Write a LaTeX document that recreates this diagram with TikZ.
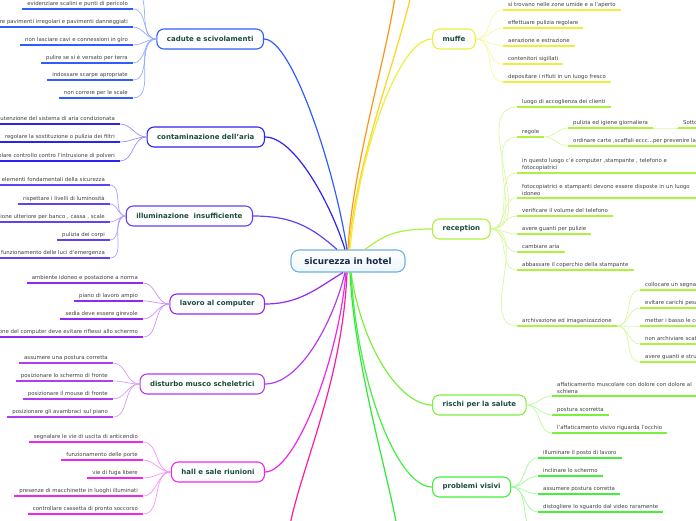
\documentclass[tikz,border=0pt]{standalone}
\usepackage{fontspec}
\setmainfont{DejaVu Sans}
\newcommand\leaffont{\fontsize{5.4}{7}\selectfont}
\newcommand\topicfont{\fontsize{7}{8}\selectfont\bfseries}
\newcommand\hubfont{\fontsize{8.8}{10}\selectfont\bfseries}
\definecolor{hubborder}{HTML}{6FB0E0}
\definecolor{hubfill}{HTML}{EEF6FC}
\definecolor{hubtext}{HTML}{1C2A4A}
\definecolor{topictext}{HTML}{1B4D3E}
\definecolor{leaftext}{HTML}{404040}
\definecolor{cadcol}{HTML}{2F5EFA}
\definecolor{concol}{HTML}{2E22EE}
\definecolor{illcol}{HTML}{6440F4}
\definecolor{lavcol}{HTML}{9328EE}
\definecolor{discol}{HTML}{B23CEE}
\definecolor{halcol}{HTML}{F026EE}
\definecolor{pinkcol}{HTML}{FF1C98}
\definecolor{greencol}{HTML}{2EE83A}
\definecolor{riscol}{HTML}{7CF03E}
\definecolor{procol}{HTML}{44F03E}
\definecolor{reccol}{HTML}{B0F03E}
\definecolor{mufcol}{HTML}{ECF03C}
\definecolor{yelcol}{HTML}{FFD21E}
\definecolor{oracol}{HTML}{FF9418}

\begin{document}
\begin{tikzpicture}[x=1pt, y=1pt,
    CenterShape/.style={rectangle, rounded corners=8pt, draw=hubborder,
        line width=1.1pt, top color=white, bottom color=hubfill,
        minimum height=22pt, minimum width=114pt, font=\hubfont, text=hubtext},
    TopicShape/.style={rectangle, rounded corners=7pt, draw=#1, line width=1.1pt,
        fill=white, minimum height=20pt, inner xsep=10pt, font=\topicfont,
        text=topictext},
    LeafLeft/.style 2 args={anchor=south east, font=\leaffont, text=leaftext,
        inner xsep=5pt, inner ysep=2.4pt, text height=3.9pt, text depth=1.3pt,
        append after command={(\tikzlastnode.south west) edge[draw=#1, line width=1.4pt]
            (\tikzlastnode.south east)
            (#2) edge[draw=#1!50!white, line width=0.7pt, out=180, in=0]
            (\tikzlastnode.south east)}},
    LeafRight/.style 2 args={anchor=south west, font=\leaffont, text=leaftext,
        inner xsep=5pt, inner ysep=2.4pt, text height=3.9pt, text depth=1.3pt,
        append after command={(\tikzlastnode.south west) edge[draw=#1, line width=1.4pt]
            (\tikzlastnode.south east)
            (#2) edge[draw=#1!50!white, line width=0.7pt, out=0, in=180]
            (\tikzlastnode.south west)}},
    LeafWide/.style 2 args={LeafRight={#1}{#2}, text height=, text depth=,
        text width=175pt, align=left},
    branch/.style={draw=#1, line width=1.2pt},
    twig/.style={draw=#1!50!white, line width=0.7pt}
]
\useasboundingbox (0,0) rectangle (696,-520);

\node (hotel) [CenterShape] at (348,-261) {sicurezza in hotel};

\node (cadute) [TopicShape=cadcol, anchor=east] at (264,-39) {cadute e scivolamenti};
\node (contaminazione) [TopicShape=concol, anchor=east] at (265,-137) {contaminazione dell'aria};
\node (illuminazione) [TopicShape=illcol, anchor=east] at (253,-216) {illuminazione\ \ insufficiente};
\node (lavoro) [TopicShape=lavcol, anchor=east] at (265,-304) {lavoro al computer};
\node (disturbo) [TopicShape=discol, anchor=east] at (265,-384) {disturbo musco scheletrici};
\node (hall) [TopicShape=halcol, anchor=east] at (265,-472) {hall e sale riunioni};
\node (muffe) [TopicShape=mufcol, anchor=west] at (432,-39) {muffe};
\node (reception) [TopicShape=reccol, anchor=west] at (432,-229) {reception};
\node (rischi) [TopicShape=riscol, anchor=west] at (432,-405) {rischi per la salute};
\node (problemi) [TopicShape=procol, anchor=west] at (432,-487) {problemi visivi};

\coordinate (orangeend) at (397,20);
\coordinate (yellowend) at (414,20);
\coordinate (pinkend) at (287,-545);
\coordinate (greenend) at (400,-545);
\coordinate (cad0) at (133,9);
\coordinate (pro0) at (538,-532);

\draw[branch=oracol] (hotel.north) .. controls +(5,90) and +(-5,-60) .. (orangeend);
\draw[branch=yelcol] ([xshift=1pt]hotel.north) .. controls +(6,90) and +(-10,-60) .. (yellowend);
\draw[branch=mufcol] ([xshift=2pt]hotel.north) .. controls +(8,90) and +(-35,0) .. (muffe.west);
\draw[branch=reccol] ([xshift=17pt]hotel.north) .. controls +(20,15) and +(-35,0) .. (reception.west);
\draw[branch=cadcol] ([xshift=-1pt]hotel.north) .. controls +(-12,80) and +(28,0) .. (cadute.east);
\draw[branch=concol] ([xshift=-3pt]hotel.north) .. controls +(-14,45) and +(30,0) .. (contaminazione.east);
\draw[branch=illcol] ([xshift=-11pt]hotel.north) .. controls +(-25,22) and +(40,0) .. (illuminazione.east);
\draw[branch=lavcol] ([xshift=-5pt]hotel.south) .. controls +(-25,-15) and +(35,0) .. (lavoro.east);
\draw[branch=discol] ([xshift=-3pt]hotel.south) .. controls +(-12,-50) and +(35,0) .. (disturbo.east);
\draw[branch=halcol] ([xshift=-2pt]hotel.south) .. controls +(-8,-90) and +(30,0) .. (hall.east);
\draw[branch=pinkcol] ([xshift=-1pt]hotel.south) .. controls +(-5,-120) and +(5,60) .. (pinkend);
\draw[branch=greencol] ([xshift=2pt]hotel.south) .. controls +(5,-100) and +(-8,60) .. (greenend);
\draw[branch=riscol] ([xshift=3pt]hotel.south) .. controls +(12,-80) and +(-30,0) .. (rischi.west);
\draw[branch=procol] ([xshift=3pt]hotel.south) .. controls +(6,-110) and +(-35,0) .. (problemi.west);

% cadute e scivolamenti
\draw[twig=cadcol] (cadute.west) to[out=180, in=0] (cad0);
\node (cad1) [LeafLeft={cadcol}{cadute.west}] at (133,-9) {evidenziare scalini e punti di pericolo};
\node (cad2) [LeafLeft={cadcol}{cadute.west}] at (133,-27) {segnalare pavimenti irregolari e pavimenti danneggiati};
\node (cad3) [LeafLeft={cadcol}{cadute.west}] at (133,-45) {non lasciare cavi e connessioni in giro};
\node (cad4) [LeafLeft={cadcol}{cadute.west}] at (133,-63) {pulire se si è versato per terra};
\node (cad5) [LeafLeft={cadcol}{cadute.west}] at (133,-80) {indossare scarpe apropriate};
\node (cad6) [LeafLeft={cadcol}{cadute.west}] at (133,-98) {non correre per le scale};

% contaminazione
\node (con1) [LeafLeft={concol}{contaminazione.west}] at (120,-124) {manutenzione del sistema di aria condizionata};
\node (con2) [LeafLeft={concol}{contaminazione.west}] at (120,-142) {regolare la sostituzione o pulizia dei filtri};
\node (con3) [LeafLeft={concol}{contaminazione.west}] at (120,-161) {effettuare regolare controllo contro l'intrusione di polveri};

% illuminazione
\node (ill1) [LeafLeft={illcol}{illuminazione.west}] at (110,-185) {la luce è uno degli elementi fondamentali della sicurezza};
\node (ill2) [LeafLeft={illcol}{illuminazione.west}] at (110,-204) {rispettare i livelli di luminosità};
\node (ill3) [LeafLeft={illcol}{illuminazione.west}] at (110,-222) {illuminazione ulteriore per banco , cassa , scale};
\node (ill4) [LeafLeft={illcol}{illuminazione.west}] at (110,-240) {pulizia dei corpi};
\node (ill5) [LeafLeft={illcol}{illuminazione.west}] at (110,-258) {verificare il funzionamento delle luci d'emergenza};

% lavoro al computer
\node (lav1) [LeafLeft={lavcol}{lavoro.west}] at (143,-283) {ambiente idoneo e postazione a norma};
\node (lav2) [LeafLeft={lavcol}{lavoro.west}] at (143,-301) {piano di lavoro ampio};
\node (lav3) [LeafLeft={lavcol}{lavoro.west}] at (143,-319) {sedia deve essere girevole};
\node (lav4) [LeafLeft={lavcol}{lavoro.west}] at (143,-337) {la posizione del computer deve evitare riflessi allo schermo};

% disturbo musco scheletrici
\node (dis1) [LeafLeft={discol}{disturbo.west}] at (113,-363) {assumere una postura corretta};
\node (dis2) [LeafLeft={discol}{disturbo.west}] at (113,-381) {posizionare lo schermo di fronte};
\node (dis3) [LeafLeft={discol}{disturbo.west}] at (113,-399) {posizionare il mouse di fronte};
\node (dis4) [LeafLeft={discol}{disturbo.west}] at (113,-417) {posizionare gli avambraci sul piano};

% hall e sale riunioni
\node (hal1) [LeafLeft={halcol}{hall.west}] at (143,-442) {segnalare le vie di uscita di anticendio};
\node (hal2) [LeafLeft={halcol}{hall.west}] at (143,-460) {funzionamento delle porte};
\node (hal3) [LeafLeft={halcol}{hall.west}] at (143,-478) {vie di fuga libere};
\node (hal4) [LeafLeft={halcol}{hall.west}] at (143,-496) {presenze di macchinette in luoghi illuminati};
\node (hal5) [LeafLeft={halcol}{hall.west}] at (143,-514) {controllare cassetta di pronto soccorso};

% muffe
\node (muf1) [LeafRight={mufcol}{muffe.east}] at (503,-10) {si trovano nelle zone umide e a l'aperto};
\node (muf2) [LeafRight={mufcol}{muffe.east}] at (503,-28) {effettuare pulizia regolare};
\node (muf3) [LeafRight={mufcol}{muffe.east}] at (503,-46) {aerazione e estrazione};
\node (muf4) [LeafRight={mufcol}{muffe.east}] at (503,-64) {contenitori sigillati};
\node (muf5) [LeafRight={mufcol}{muffe.east}] at (503,-82) {depositare i rifiuti in un luogo fresco};

% reception
\node (rec1) [LeafRight={reccol}{reception.east}] at (517,-107) {luogo di accoglienza dei clienti};
\node (rec2) [LeafRight={reccol}{reception.east}] at (517,-137) {regole};
\node (rec3) [LeafWide={reccol}{reception.east}] at (517,-173) {in questo luogo c'è computer ,stampante , telefono e\\fotocopiatrici};
\node (rec4) [LeafWide={reccol}{reception.east}] at (517,-198) {fotocopiatrici e stampanti devono essere disposte in un luogo\\idoneo};
\node (rec5) [LeafRight={reccol}{reception.east}] at (517,-216) {verificare il volume del telefono};
\node (rec6) [LeafRight={reccol}{reception.east}] at (517,-234) {avere guanti per pulizie};
\node (rec7) [LeafRight={reccol}{reception.east}] at (517,-252) {cambiare aria};
\node (rec8) [LeafRight={reccol}{reception.east}] at (517,-270) {abbassare il coperchio della stampante};
\node (rec9) [LeafRight={reccol}{reception.east}] at (517,-326) {archivazione ed imaganizazzione};
\node (reg1) [LeafRight={reccol}{rec2.south east}] at (568,-128) {pulizia ed igiene giornaliera};
\node (reg2) [LeafRight={reccol}{rec2.south east}] at (568,-146) {ordinare carte ,scaffali eccc...per prevenire la caduta};
\node (reg3) [LeafRight={reccol}{reg1.south east}] at (678,-128) {Sottoporre a controllo};
\node (arc1) [LeafRight={reccol}{rec9.south east}] at (640,-290) {collocare un segnale};
\node (arc2) [LeafRight={reccol}{rec9.south east}] at (640,-308) {evitare carichi pesanti};
\node (arc3) [LeafRight={reccol}{rec9.south east}] at (640,-326) {metter i basso le cose pesanti};
\node (arc4) [LeafRight={reccol}{rec9.south east}] at (640,-344) {non archiviare scatole in alto};
\node (arc5) [LeafRight={reccol}{rec9.south east}] at (640,-362) {avere guanti e strumenti};

% rischi per la salute
\node (ris1) [LeafWide={riscol}{rischi.east}] at (552,-396) {affaticamento muscolare con dolore con dolore al\\schiena};
\node (ris2) [LeafRight={riscol}{rischi.east}] at (552,-415) {postura scorretta};
\node (ris3) [LeafRight={riscol}{rischi.east}] at (552,-433) {l'affaticamento visivo riguarda l'occhio};

% problemi visivi
\node (pro1) [LeafRight={procol}{problemi.east}] at (538,-458) {illuminare il posto di lavoro};
\node (pro2) [LeafRight={procol}{problemi.east}] at (538,-476) {inclinare lo schermo};
\node (pro3) [LeafRight={procol}{problemi.east}] at (538,-494) {assumere postura corretta};
\node (pro4) [LeafRight={procol}{problemi.east}] at (538,-512) {distogliere lo sguardo dal video raramente};
\draw[twig=procol] (problemi.east) to[out=0, in=180] (pro0);
\end{tikzpicture}
\end{document}
